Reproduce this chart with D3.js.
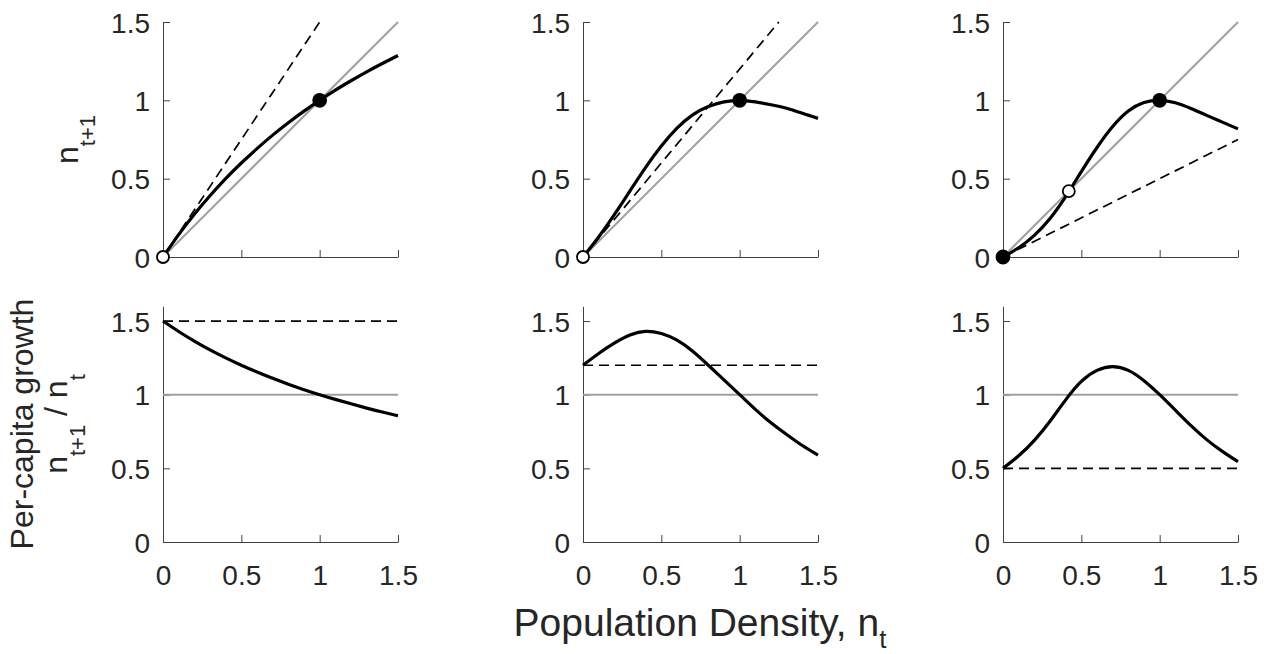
<!DOCTYPE html>
<html>
<head>
<meta charset="utf-8">
<script src="https://cdn.jsdelivr.net/npm/d3@7"></script>
<style>
  body { margin: 0; background: #fff; }
  svg { display: block; }
  text { font-family: "Liberation Sans", Arial, Helvetica, sans-serif; fill: #262626; }
</style>
</head>
<body>
<div class="fig"></div>
<script>
var W = 1270, H = 654;

// population density n_t (x for every curve)
var density = [0, 0.1, 0.2, 0.3, 0.4, 0.5, 0.6, 0.7, 0.8, 0.9, 1.0, 1.1, 1.2, 1.3, 1.4, 1.5];

// n_{t+1}, top row
var nextCompensating = [0, 0.143, 0.273, 0.391, 0.5, 0.6, 0.692, 0.778, 0.857, 0.931, 1.0, 1.065, 1.125, 1.182, 1.235, 1.286];
var nextOvercomp     = [0, 0.128, 0.27, 0.422, 0.572, 0.708, 0.822, 0.907, 0.96, 0.99, 1.0, 0.99, 0.972, 0.949, 0.917, 0.885];
var nextAllee        = [0, 0.059, 0.138, 0.246, 0.386, 0.545, 0.699, 0.833, 0.932, 0.986, 1.0, 0.985, 0.948, 0.904, 0.861, 0.818];

// per-capita growth n_{t+1} / n_t, bottom row
var growthCompensating = [1.5, 1.429, 1.364, 1.304, 1.25, 1.2, 1.154, 1.111, 1.071, 1.034, 1.0, 0.968, 0.938, 0.909, 0.882, 0.857];
var growthOvercomp     = [1.2, 1.28, 1.35, 1.405, 1.43, 1.415, 1.37, 1.295, 1.20, 1.10, 1.0, 0.90, 0.81, 0.73, 0.655, 0.59];
var growthAllee        = [0.5, 0.585, 0.69, 0.82, 0.965, 1.09, 1.165, 1.19, 1.165, 1.095, 1.0, 0.895, 0.79, 0.695, 0.615, 0.545];

// growth rate at low density (dashed lines)
var lowDensityRate = [1.5, 1.2, 0.5];

// equilibria per column: n, stable?
var eqDensity = [[0, 1], [0, 1], [0, 0.42, 1]];
var eqStable  = [[false, true], [false, true], [true, false, true]];

var xTicks = [0, 0.5, 1, 1.5];
var yTicks = [0, 0.5, 1, 1.5];

var nextSeries = [nextCompensating, nextOvercomp, nextAllee];
var growthSeries = [growthCompensating, growthOvercomp, growthAllee];

var colLeft = [163, 583, 1003];
var pw = 235;

var svg = d3.select(".fig").append("svg")
    .attr("width", W)
    .attr("height", H);

var line = d3.line();
var smooth = d3.line().curve(d3.curveNatural);

function drawPanel(col, top, bottom, yMax, isTop) {
    var x = d3.scaleLinear().domain([0, 1.5]).range([colLeft[col], colLeft[col] + pw]);
    var y = d3.scaleLinear().domain([0, yMax]).range([bottom, top]);
    var g = svg.append("g");
    var R = lowDensityRate[col];

    // axes
    var xa = d3.axisBottom(x).tickValues(xTicks).tickSizeInner(-7).tickSizeOuter(0).tickPadding(23)
        .tickFormat(isTop ? function () { return ""; } : function (d) { return String(d); });
    var ya = d3.axisLeft(y).tickValues(yTicks).tickSizeInner(-7).tickSizeOuter(0).tickPadding(13)
        .tickFormat(function (d) { return String(d); });

    var gx = g.append("g").attr("transform", "translate(0," + y(0) + ")").call(xa);
    var gy = g.append("g").attr("transform", "translate(" + x(0) + ",0)").call(ya);
    [gx, gy].forEach(function (a) {
        a.attr("font-size", 28).attr("font-family", null);
        a.selectAll("path, line").attr("stroke", "#404040").attr("stroke-width", 1);
        a.selectAll("text").attr("fill", "#262626");
    });
    gy.selectAll("text").attr("dy", "0.36em");

    if (isTop) {
        // 1:1 line
        g.append("path")
            .attr("d", line([[x(0), y(0)], [x(1.5), y(1.5)]]))
            .attr("stroke", "#a0a0a0").attr("stroke-width", 2).attr("fill", "none");
        var xEnd = Math.min(1.5, 1.5 / R);
        g.append("path")
            .attr("d", line([[x(0), y(0)], [x(xEnd), y(R * xEnd)]]))
            .attr("stroke", "#000").attr("stroke-width", 1.7)
            .attr("stroke-dasharray", "10,6").attr("fill", "none");
        g.append("path")
            .attr("d", smooth(density.map(function (d, i) { return [x(d), y(nextSeries[col][i])]; })))
            .attr("stroke", "#000").attr("stroke-width", 3.2).attr("fill", "none");
        g.selectAll("circle.eq")
            .data(eqDensity[col].map(function (d, i) { return { n: d, stable: eqStable[col][i] }; }))
            .enter().append("circle")
            .attr("cx", function (d) { return x(d.n); })
            .attr("cy", function (d) { return y(d.n); })
            .attr("r", function (d) { return d.stable ? 6.5 : 6; })
            .attr("fill", function (d) { return d.stable ? "#000" : "#fff"; })
            .attr("stroke", "#000").attr("stroke-width", 1.8);
    } else {
        g.append("path")
            .attr("d", line([[x(0), y(1)], [x(1.5), y(1)]]))
            .attr("stroke", "#a0a0a0").attr("stroke-width", 2).attr("fill", "none");
        g.append("path")
            .attr("d", line([[x(0), y(R)], [x(1.5), y(R)]]))
            .attr("stroke", "#000").attr("stroke-width", 1.7)
            .attr("stroke-dasharray", "10,6").attr("fill", "none");
        g.append("path")
            .attr("d", smooth(density.map(function (d, i) { return [x(d), y(growthSeries[col][i])]; })))
            .attr("stroke", "#000").attr("stroke-width", 3.2).attr("fill", "none");
    }
}

for (var c = 0; c < 3; c++) {
    drawPanel(c, 22, 257, 1.5, true);
    drawPanel(c, 306.3, 542, 1.6, false);
}

// y labels
var lab1 = svg.append("text")
    .attr("transform", "translate(78,139.5) rotate(-90)")
    .attr("text-anchor", "middle").attr("font-size", 32);
lab1.append("tspan").text("n");
lab1.append("tspan").attr("font-size", 22).attr("dy", 17).text("t+1");

svg.append("text")
    .attr("transform", "translate(33,424) rotate(-90)")
    .attr("text-anchor", "middle").attr("font-size", 32)
    .text("Per-capita growth");

var lab2 = svg.append("text")
    .attr("transform", "translate(67,424) rotate(-90)")
    .attr("text-anchor", "middle").attr("font-size", 32);
lab2.append("tspan").text("n");
lab2.append("tspan").attr("font-size", 22).attr("dy", 18).text("t+1");
lab2.append("tspan").attr("dy", -18).text(" / n");
lab2.append("tspan").attr("font-size", 22).attr("dy", 18).text("t");

// x label
var xl = svg.append("text")
    .attr("x", 700).attr("y", 636)
    .attr("text-anchor", "middle").attr("font-size", 39);
xl.append("tspan").text("Population Density, n");
xl.append("tspan").attr("font-size", 26).attr("dy", 12).text("t");
</script>
</body>
</html>
